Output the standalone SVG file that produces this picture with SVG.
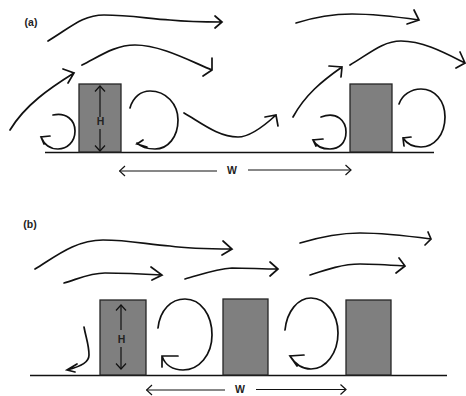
<svg xmlns="http://www.w3.org/2000/svg" width="466" height="396" viewBox="0 0 466 396">
<defs>
<marker id="head" viewBox="-7 -6 8 12" markerUnits="userSpaceOnUse" markerWidth="8" markerHeight="12" refX="0" refY="0" orient="auto-start-reverse">
<path d="M-5.5,-5 L0,0 L-5.500,5" fill="none" stroke="#111" stroke-width="1.2"/>
</marker>
</defs>
<style>
.bg{fill:#fff}
.b{fill:#7f7f7f;stroke:#262626;stroke-width:1.3}
.g{stroke:#111;stroke-width:1.7;fill:none}
.f{fill:none;stroke:#111;stroke-width:1.7;stroke-linecap:round;stroke-linejoin:miter}
.d{fill:none;stroke:#111;stroke-width:1.2;marker-end:url(#head)}
text{font-family:"Liberation Sans",Arial,sans-serif;font-weight:bold;font-size:10.500px;fill:#222;text-anchor:middle;dominant-baseline:central}
</style>
<rect class="bg" width="466" height="396"/>
<g id="panel-a-label"><text x="31" y="22">(a)</text></g>
<g id="panel-b-label"><text x="30" y="224">(b)</text></g>
<g id="ground-a"><line class="g" x1="45" y1="152.500" x2="434" y2="152.500"/></g>
<g id="ground-b"><line class="g" x1="30" y1="375.500" x2="447" y2="375.500"/></g>
<g id="building-a1"><rect class="b" x="79" y="84" width="42" height="68"/></g>
<g id="building-a2"><rect class="b" x="350" y="84" width="42" height="68"/></g>
<g id="building-b1"><rect class="b" x="100" y="300" width="46" height="75"/></g>
<g id="building-b2"><rect class="b" x="223" y="299" width="45" height="76"/></g>
<g id="building-b3"><rect class="b" x="346" y="300" width="45" height="75"/></g>
<g id="connectors">
<path class="f" d="M48,41C70,28 82,15 104,15C130,15 150,19 170,20C190,22 205,22 222,22M215,16L222,22L215,28"/>
<path class="f" d="M82,65C100,56 115,45 135,45C160,45 188,60 212,70M212,58L212,70L203,76"/>
<path class="f" d="M10,130C25,105 50,88 74,73M63,69L74,73L68,83"/>
<path class="f" d="M53,115C66,112 75,120 75,131C75,142 67,149 58,149C50,149 44,144 41,137M50,136L41,137L44,144"/>
<path class="f" d="M130,108C133,97 141,91 150,91C166,91 178,104 178,120C178,137 168,149 155,149C147,149 141,147 137,143M143,140L137,144L147,147"/>
<path class="f" d="M184,113C200,122 218,137 238,137C250,137 263,127 276,115M265,117L276,115L278,126"/>
<path class="f" d="M296,23C315,17 335,14 352,14C375,14 398,17 419,20M414,10L419,20L407,24"/>
<path class="f" d="M293,117C305,95 322,81 342,67M329,66L342,67L341,77"/>
<path class="f" d="M350,65C370,53 383,41 401,41C423,41 445,53 465,63M460,52L465,63L456,68"/>
<path class="f" d="M321,117C337,111 346,121 346,132C346,143 339,149 330,149C322,149 316,146 313,140M323,139L313,140L316,146"/>
<path class="f" d="M399,104C402,95 411,89 421,89C435,89 445,101 445,117C445,135 434,147 421,147C413,147 407,144 403,138M411,137L403,138L404,146"/>
<path class="d" d="M217,171L119.500,171"/>
<path class="d" d="M248,170L351,170"/>
<path class="d" d="M100,117L100,86"/>
<path class="d" d="M100,129L100,151"/>
<path class="f" d="M35,269C55,257 75,240 103,240C130,240 150,245 170,246C190,249 210,249 232,249M223,241L232,249L222,255"/>
<path class="f" d="M64,283C78,279 90,273 105,273C125,273 145,274 162,275M151,267L162,275L152,280"/>
<path class="f" d="M185,279C200,275 215,269 232,268C248,268 262,269 278,269M270,262L278,269L270,276"/>
<path class="f" d="M300,243C320,237 340,233 360,233C385,233 408,236 431,239M428,232L431,239L425,245"/>
<path class="f" d="M310,275C325,270 342,264 360,264C375,264 390,265 405,266M399,258L405,266L396,273"/>
<path class="f" d="M84,327C86,338 89,345 89,355C89,362 82,366 67,370M77,364L67,370L75,372"/>
<path class="f" d="M158,328C160,310 171,299 185,299C201,299 212,315 212,335C212,355 199,370 183,370C173,370 165,365 162,356M178,356L162,356L162,367"/>
<path class="f" d="M285,330C287,311 298,298 311,298C326,298 338,314 338,333C338,353 326,369 311,369C302,369 295,364 290,356M304,355L290,356L297,366"/>
<path class="d" d="M121,330L121,305"/>
<path class="d" d="M121,347L121,369"/>
<path class="d" d="M225,390L146.500,390"/>
<path class="d" d="M256,389.500L346,389.500"/>
</g>
<g id="labels">
<text x="100.500" y="121">H</text>
<text x="232" y="170">W</text>
<text x="121.500" y="339">H</text>
<text x="240" y="389">W</text>
</g>
</svg>
